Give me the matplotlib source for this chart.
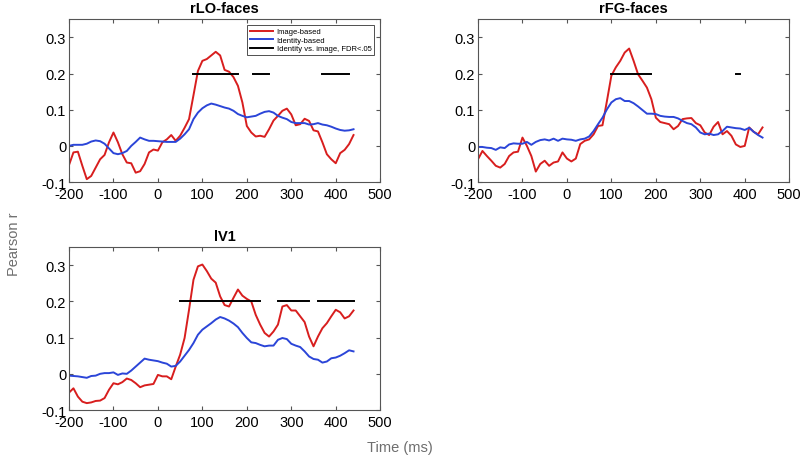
import numpy as np
import matplotlib.pyplot as plt

plt.rcParams['font.family'] = ['Liberation Sans', 'DejaVu Sans']
plt.rcParams['axes.unicode_minus'] = False

t = np.arange(-200, 441, 10)

# rLO-faces
lo_img = [-0.053, -0.018, -0.016, -0.055, -0.092, -0.083, -0.06, -0.037, -0.025, 0.01,
          0.037, 0.01, -0.023, -0.046, -0.048, -0.074, -0.07, -0.05, -0.018, -0.01,
          -0.013, 0.01, 0.018, 0.03, 0.014, 0.028, 0.05, 0.074, 0.14, 0.207,
          0.235, 0.24, 0.25, 0.26, 0.25, 0.21, 0.205, 0.19, 0.166, 0.12,
          0.055, 0.037, 0.026, 0.028, 0.025, 0.046, 0.07, 0.083, 0.097, 0.103,
          0.087, 0.057, 0.06, 0.075, 0.069, 0.043, 0.04, 0.01, -0.023, -0.037,
          -0.048, -0.02, -0.011, 0.005, 0.03]
lo_id = [0.0, 0.003, 0.003, 0.003, 0.006, 0.012, 0.015, 0.013, 0.006, -0.007,
         -0.02, -0.023, -0.02, -0.014, 0.0, 0.011, 0.023, 0.018, 0.014, 0.014,
         0.013, 0.012, 0.011, 0.011, 0.011, 0.02, 0.032, 0.046, 0.074, 0.092,
         0.104, 0.112, 0.117, 0.114, 0.11, 0.106, 0.103, 0.097, 0.088, 0.083,
         0.079, 0.081, 0.083, 0.089, 0.094, 0.096, 0.092, 0.083, 0.078, 0.074,
         0.066, 0.063, 0.063, 0.063, 0.059, 0.06, 0.063, 0.059, 0.057, 0.053,
         0.048, 0.044, 0.042, 0.043, 0.046]
lo_sig = [(80, 180), (215, 250), (370, 430)]

# rFG-faces
fg_img = [-0.037, -0.014, -0.028, -0.041, -0.055, -0.06, -0.05, -0.028, -0.018, -0.016,
          0.023, 0.0, -0.028, -0.071, -0.05, -0.041, -0.055, -0.046, -0.043, -0.018,
          -0.035, -0.043, -0.035, 0.005, 0.014, 0.018, 0.032, 0.055, 0.057, 0.124,
          0.194, 0.217, 0.235, 0.258, 0.269, 0.235, 0.198, 0.18, 0.161, 0.129,
          0.078, 0.066, 0.063, 0.06, 0.046, 0.055, 0.074, 0.076, 0.077, 0.063,
          0.057, 0.037, 0.03, 0.053, 0.066, 0.032, 0.041, 0.028, 0.004, -0.003,
          0.0, 0.051, 0.039, 0.032, 0.051]
fg_id = [-0.003, -0.003, -0.005, -0.006, -0.011, -0.004, -0.006, 0.004, 0.007, 0.006,
         0.006, 0.011, 0.003, 0.011, 0.016, 0.018, 0.015, 0.02, 0.014, 0.02,
         0.018, 0.017, 0.014, 0.018, 0.02, 0.026, 0.041, 0.06, 0.078, 0.101,
         0.12, 0.129, 0.132, 0.124, 0.124, 0.118, 0.109, 0.099, 0.089, 0.089,
         0.088, 0.083, 0.081, 0.08, 0.08, 0.076, 0.069, 0.063, 0.06, 0.051,
         0.037, 0.032, 0.034, 0.03, 0.032, 0.041, 0.053, 0.051, 0.049, 0.048,
         0.044, 0.05, 0.039, 0.03, 0.023]
fg_sig = [(100, 190), (380, 390)]

# lV1
v1_img = [-0.052, -0.04, -0.063, -0.077, -0.081, -0.079, -0.075, -0.074, -0.067, -0.044,
          -0.026, -0.029, -0.023, -0.013, -0.017, -0.026, -0.037, -0.032, -0.03, -0.028,
          -0.003, -0.007, -0.007, -0.015, 0.02, 0.053, 0.099, 0.177, 0.26, 0.297,
          0.302, 0.284, 0.263, 0.252, 0.214, 0.19, 0.186, 0.21, 0.233, 0.216,
          0.207, 0.2, 0.163, 0.136, 0.113, 0.103, 0.117, 0.136, 0.186, 0.19,
          0.175, 0.175, 0.159, 0.143, 0.103, 0.076, 0.103, 0.126, 0.14, 0.159,
          0.177, 0.17, 0.153, 0.159, 0.175]
v1_id = [-0.005, -0.006, -0.007, -0.009, -0.011, -0.006, -0.005, 0.0, 0.002, 0.002,
         0.004, -0.003, 0.001, 0.0, 0.009, 0.02, 0.031, 0.042, 0.039, 0.037,
         0.035, 0.031, 0.028, 0.02, 0.022, 0.034, 0.05, 0.066, 0.085, 0.108,
         0.122, 0.131, 0.14, 0.15, 0.157, 0.153, 0.147, 0.139, 0.129, 0.113,
         0.099, 0.087, 0.085, 0.08, 0.076, 0.078, 0.078, 0.094, 0.099, 0.096,
         0.083, 0.078, 0.074, 0.062, 0.048, 0.041, 0.039, 0.031, 0.034, 0.043,
         0.045, 0.05, 0.057, 0.065, 0.062]
v1_sig = [(50, 230), (270, 340), (360, 440)]

red = '#d81e1e'
blue = '#2b45d8'
gray = '#6e6e6e'

fig = plt.figure(figsize=(8, 4.6), dpi=100)
ax1 = fig.add_axes([0.08625, 0.602, 0.389, 0.354])
ax2 = fig.add_axes([0.5975, 0.602, 0.389, 0.354])
ax3 = fig.add_axes([0.08625, 0.1065, 0.389, 0.354])

panels = [(ax1, 'rLO-faces', lo_img, lo_id, lo_sig),
          (ax2, 'rFG-faces', fg_img, fg_id, fg_sig),
          (ax3, 'lV1', v1_img, v1_id, v1_sig)]

for ax, title, img, ident, sig in panels:
    ax.plot(t, img, color=red, lw=1.4, label='Image-based')
    ax.plot(t, ident, color=blue, lw=1.4, label='Identity-based')
    for i, (a, b) in enumerate(sig):
        ax.plot([a, b], [0.2, 0.2], color='k', lw=1.4,
                label='Identity vs. image, FDR<.05' if i == 0 else None)
    ax.set_xlim(-200, 500)
    ax.set_ylim(-0.1, 0.35)
    ax.set_xticks(np.arange(-200, 501, 100))
    ax.set_yticks([-0.1, 0, 0.1, 0.2, 0.3])
    ax.set_yticklabels(['-0.1', '0', '0.1', '0.2', '0.3'])
    ax.tick_params(direction='in', top=True, right=True, labelsize=10.5,
                   length=3, color='#555555', pad=2)
    ax.tick_params(axis='x', pad=3.5)
    for s in ax.spines.values():
        s.set_color('#555555')
        s.set_linewidth(0.8)
    ax.set_title(title, fontsize=10.5, fontweight='bold', pad=5)

ax1.legend(loc='upper right', fontsize=5.5, frameon=True, fancybox=False,
           edgecolor='k', borderaxespad=0.8, handlelength=3.0, handletextpad=0.5,
           labelspacing=0.15, borderpad=0.35).get_frame().set_linewidth(0.6)

fig.text(0.018, 0.47, 'Pearson r', rotation=90, color=gray, fontsize=10.5,
         ha='center', va='center')
fig.text(0.5, 0.027, 'Time (ms)', color=gray, fontsize=10.5, ha='center', va='center')

fig.savefig('out.png', dpi=100)
